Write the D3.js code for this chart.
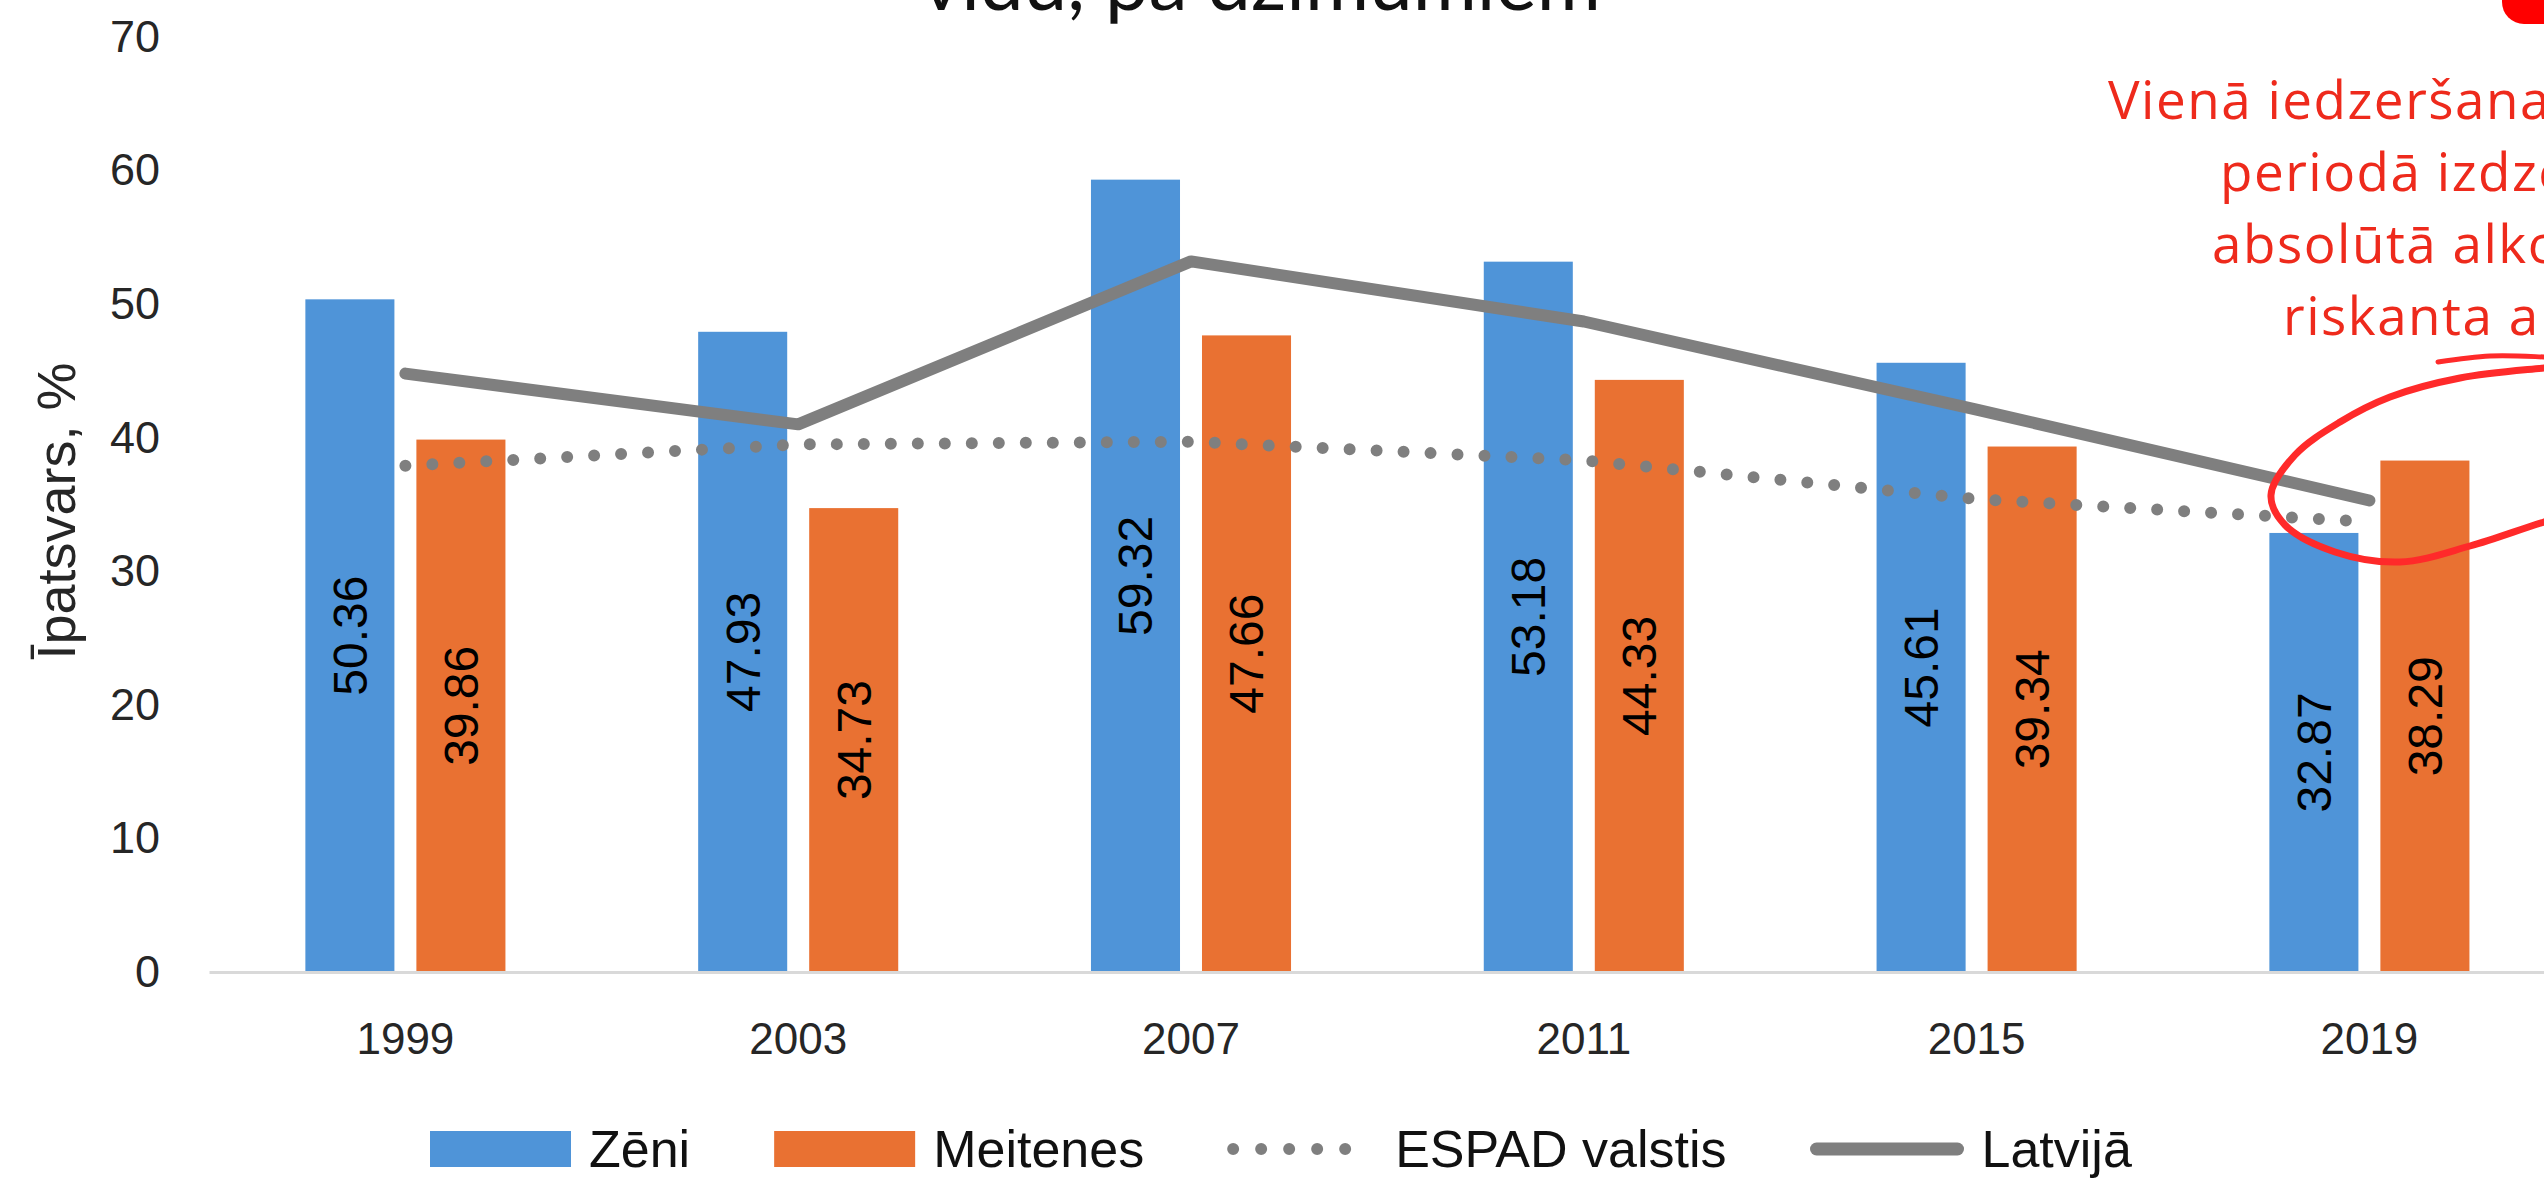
<!DOCTYPE html>
<html>
<head>
<meta charset="utf-8">
<script src="https://cdn.jsdelivr.net/npm/d3@7"></script>
<style>
  body { margin: 0; background: #fff; overflow: hidden; }
  svg { display: block; }
</style>
</head>
<body>
<div id="chart"></div>
<script>
// chart data
var years = ["1999", "2003", "2007", "2011", "2015", "2019"];
var barSeries = ["Zēni", "Meitenes"];
var zeni = [50.36, 47.93, 59.32, 53.18, 45.61, 32.87];
var meitenes = [39.86, 34.73, 47.66, 44.33, 39.34, 38.29];
var espad = [37.9, 39.5, 39.7, 38.3, 35.4, 33.7];
var latvija = [44.8, 41.0, 53.2, 48.7, 42.1, 35.3];
var yTicks = [0, 10, 20, 30, 40, 50, 60, 70];
var legendNames = ["Zēni", "Meitenes", "ESPAD valstis", "Latvijā"];
var titleText = "vidū, pa dzimumiem";
var yTitle = "Īpatsvars, %";
var noteLines = ["Vienā iedzeršanas", "periodā izdzer", "absolūtā alkohola", "riskanta alkohola"];

var svgWidth = 2544;
var svgHeight = 1180;
var blue = "#4f94d8", orange = "#e97132", grey = "#7f7f7f";

var svg = d3.select("#chart").append("svg")
   .attr("width", svgWidth)
   .attr("height", svgHeight);

svg.append("rect").attr("width", svgWidth).attr("height", svgHeight).attr("fill", "#fff");

// scales
var x = d3.scaleBand().domain(years).range([209, 209 + 6 * 392.8]);
var xSub = d3.scaleBand().domain(barSeries).range([0, x.bandwidth()])
   .paddingInner(0.198).paddingOuter(0.868);
var y = d3.scaleLinear().domain([0, 70]).range([972, 37]);

// title (cut off at the top in the original)
svg.append("text")
   .attr("x", 1261).attr("y", 10)
   .attr("text-anchor", "middle")
   .style("font-family", "Lato, 'Open Sans', sans-serif")
   .style("font-size", "78px")
   .attr("fill", "#111")
   .text(titleText);

// y axis
var yAxis = svg.append("g")
   .attr("transform", "translate(209,0)")
   .call(d3.axisLeft(y).tickValues(yTicks).tickSize(0).tickPadding(49));
yAxis.select(".domain").remove();
yAxis.selectAll("text")
   .style("font-family", "'Liberation Sans', Arial, sans-serif")
   .style("font-size", "45px")
   .attr("fill", "#262626");

svg.append("text")
   .attr("transform", "translate(75,511) rotate(-90)")
   .attr("text-anchor", "middle")
   .style("font-family", "'Liberation Sans', Arial, sans-serif")
   .style("font-size", "54px")
   .attr("fill", "#262626")
   .text(yTitle);

// bars
var rows = years.map(function(yr, i) {
   return { year: yr, values: [
      { key: "Zēni", value: zeni[i], color: blue },
      { key: "Meitenes", value: meitenes[i], color: orange }
   ] };
});

var groups = svg.selectAll(".grp").data(rows).enter().append("g")
   .attr("class", "grp")
   .attr("transform", function(d) { return "translate(" + x(d.year) + ",0)"; });

groups.selectAll("rect").data(function(d) { return d.values; }).enter().append("rect")
   .attr("x", function(d) { return xSub(d.key); })
   .attr("width", xSub.bandwidth())
   .attr("y", function(d) { return y(d.value); })
   .attr("height", function(d) { return y(0) - y(d.value); })
   .attr("fill", function(d) { return d.color; });

// x axis
var xAxis = svg.append("g")
   .attr("transform", "translate(0,972)")
   .call(d3.axisBottom(x).tickSize(0).tickSizeOuter(0).tickPadding(51));
xAxis.select(".domain").attr("stroke", "#d9d9d9").attr("stroke-width", 3);
xAxis.selectAll("text")
   .style("font-family", "'Liberation Sans', Arial, sans-serif")
   .style("font-size", "44px")
   .attr("fill", "#262626");

// lines
var cx = function(i) { return x(years[i]) + x.bandwidth() / 2; };
var line = d3.line()
   .x(function(d, i) { return cx(i); })
   .y(function(d) { return y(d); });

svg.append("path").datum(espad)
   .attr("d", line)
   .attr("fill", "none")
   .attr("stroke", grey)
   .attr("stroke-width", 12)
   .attr("stroke-linecap", "round")
   .attr("stroke-dasharray", "0 27");

svg.append("path").datum(latvija)
   .attr("d", line)
   .attr("fill", "none")
   .attr("stroke", grey)
   .attr("stroke-width", 12)
   .attr("stroke-linecap", "round")
   .attr("stroke-linejoin", "round");

// data labels inside the bars
groups.selectAll(".lbl").data(function(d) { return d.values; }).enter().append("text")
   .attr("class", "lbl")
   .attr("transform", function(d) {
      var lx = xSub(d.key) + xSub.bandwidth() / 2;
      var ly = (y(d.value) + y(0)) / 2;
      return "translate(" + lx + "," + ly + ") rotate(-90)";
   })
   .attr("text-anchor", "middle")
   .attr("dy", "0.35em")
   .style("font-family", "'Liberation Sans', Arial, sans-serif")
   .style("font-size", "48px")
   .attr("fill", "#000")
   .text(function(d) { return d3.format(".2f")(d.value); });

// legend
var legend = svg.append("g").attr("transform", "translate(0,1149)");
var lx = 430;
legendNames.forEach(function(name, i) {
   var sw;
   if (i < 2) {
      sw = 141;
      legend.append("rect").attr("x", lx).attr("y", -18).attr("width", sw).attr("height", 36)
         .attr("fill", i == 0 ? blue : orange);
   } else if (i == 2) {
      sw = 149;
      legend.append("line").attr("x1", lx + 5).attr("x2", lx + 145).attr("y1", 0).attr("y2", 0)
         .attr("stroke", grey).attr("stroke-width", 12)
         .attr("stroke-linecap", "round").attr("stroke-dasharray", "0 28");
   } else {
      sw = 153;
      legend.append("line").attr("x1", lx + 6).attr("x2", lx + sw - 6).attr("y1", 0).attr("y2", 0)
         .attr("stroke", grey).attr("stroke-width", 13).attr("stroke-linecap", "round");
   }
   var t = legend.append("text")
      .attr("x", lx + sw + 18).attr("y", 0).attr("dy", "0.35em")
      .style("font-family", "'Liberation Sans', Arial, sans-serif")
      .style("font-size", "52px")
      .attr("fill", "#111")
      .text(name);
   lx = lx + sw + 18 + t.node().getComputedTextLength() + 84;
});

// red annotation on the right (cut off in the original)
var red = "#ee2a1c";
var noteX = [2108, 2220, 2212, 2283];
svg.selectAll(".note").data(noteLines).enter().append("text")
   .attr("class", "note")
   .attr("x", function(d, i) { return noteX[i]; })
   .attr("y", function(d, i) { return 119 + i * 72; })
   .style("font-family", "'Open Sans', sans-serif")
   .style("font-size", "53px")
   .style("letter-spacing", "1.5px")
   .attr("fill", red)
   .text(function(d) { return d; });

svg.append("rect").attr("x", 2502).attr("y", -40).attr("width", 100).attr("height", 64)
   .attr("rx", 22).attr("fill", "#ff0000");

var loop = d3.line().curve(d3.curveCatmullRom);
var redLoop = [[2620, 500], [2544, 522], [2470, 546], [2400, 562], [2335, 552], [2285, 525],
   [2271, 495], [2295, 455], [2340, 422], [2390, 397], [2460, 378], [2544, 368], [2620, 362]];
var redTail = [[2438, 362], [2490, 356], [2544, 357], [2620, 362]];
[redLoop, redTail].forEach(function(p, i) {
   svg.append("path").attr("d", loop(p))
      .attr("fill", "none").attr("stroke", "#ff2a2a")
      .attr("stroke-width", i == 0 ? 7 : 5).attr("stroke-linecap", "round");
});
</script>
</body>
</html>
